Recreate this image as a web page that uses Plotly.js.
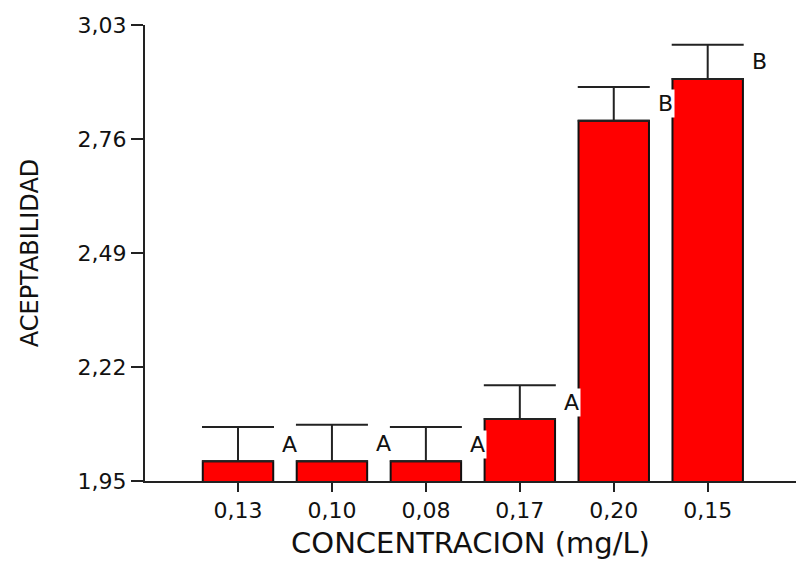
<!DOCTYPE html>
<html>
<head>
<meta charset="utf-8">
<script src="https://cdn.plot.ly/plotly-3.0.1.min.js"></script>
<style>html,body{margin:0;padding:0;background:#fff;}#chart{width:796px;height:562px;}</style>
</head>
<body>
<div id="chart"></div>
<script>
const categories = ['0,13', '0,10', '0,08', '0,17', '0,20', '0,15'];
const means = [1.997, 1.997, 1.997, 2.097, 2.803, 2.902];
const errors = [0.081, 0.086, 0.081, 0.080, 0.080, 0.081];
const groups = ['A', 'A', 'A', 'A', 'B', 'B'];
const yTickVals = [1.95, 2.22, 2.49, 2.76, 3.03];
const yTickText = ['1,95', '2,22', '2,49', '2,76', '3,03'];

const FONT = 'DejaVu Sans, Arial, sans-serif';

const trace = {
  type: 'bar',
  x: categories,
  y: means,
  width: 0.75,
  marker: {color: '#ff0000', line: {color: '#111', width: 2}},
  error_y: {type: 'data', array: errors, symmetric: false, arrayminus: errors.map(() => 0),
            color: '#222', thickness: 2, width: 36, visible: true},
  hoverinfo: 'skip'
};

const annotations = groups.map((g, i) => ({
  x: i + 0.55, y: means[i] + errors[i] / 2, xref: 'x', yref: 'y',
  text: g, showarrow: false, bgcolor: '#ffffff',
  font: {family: FONT, size: 22, color: '#111'}
}));

const layout = {
  width: 796, height: 562,
  margin: {l: 145, r: 0, t: 25, b: 81},
  paper_bgcolor: '#fff', plot_bgcolor: '#fff',
  showlegend: false,
  bargap: 0.2,
  xaxis: {
    type: 'category', range: [-0.99, 5.94],
    showgrid: false, zeroline: false,
    showline: true, linecolor: '#222', linewidth: 2,
    ticks: 'outside', ticklen: 9, tickwidth: 2, tickcolor: '#222',
    tickfont: {family: FONT, size: 22, color: '#111'},
    title: {text: 'CONCENTRACION (mg/L)', font: {family: FONT, size: 29, color: '#111'}, standoff: 10}
  },
  yaxis: {
    range: [1.95, 3.03],
    tickvals: yTickVals, ticktext: yTickText,
    showgrid: false, zeroline: false,
    showline: true, linecolor: '#222', linewidth: 2,
    ticks: 'outside', ticklen: 12, tickwidth: 2, tickcolor: '#222',
    tickfont: {family: FONT, size: 22, color: '#111'},
    title: {text: 'ACEPTABILIDAD', font: {family: FONT, size: 24, color: '#111'}, standoff: 32}
  },
  annotations: annotations
};

Plotly.newPlot('chart', [trace], layout, {displayModeBar: false, staticPlot: true});
</script>
</body>
</html>
